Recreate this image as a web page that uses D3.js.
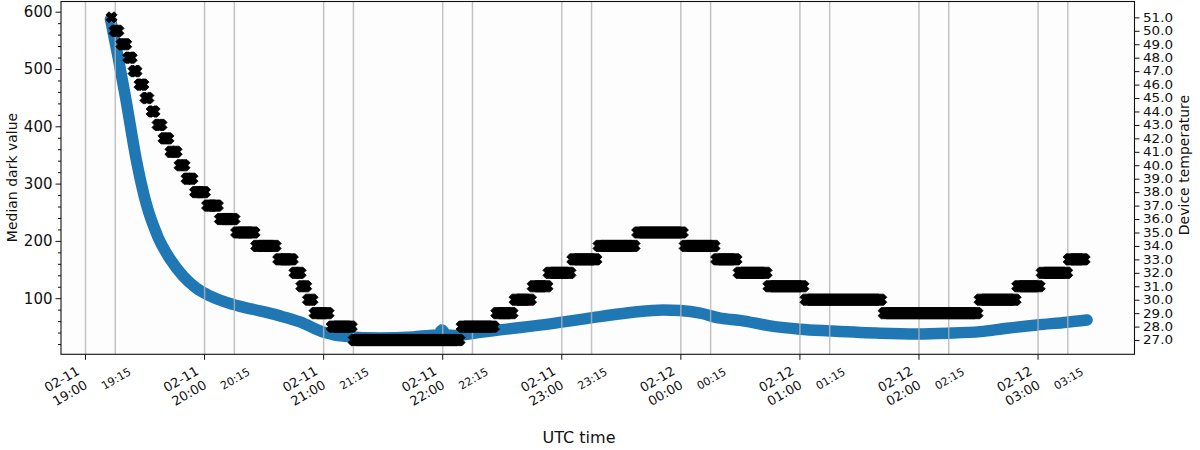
<!DOCTYPE html>
<html><head><meta charset="utf-8">
<script src="https://cdn.jsdelivr.net/npm/d3@7"></script>
<style>
html,body{margin:0;padding:0;background:#fff;}
svg{display:block;font-family:"DejaVu Sans",sans-serif;}
</style></head><body>
<svg id="chart" width="1200" height="450"></svg>
<script>
// ---------- data ----------
const darkTimes = [
 "2023-02-11 19:12:36","2023-02-11 19:16:24","2023-02-11 19:20:24","2023-02-11 19:25:24","2023-02-11 19:30:30",
 "2023-02-11 19:36:30","2023-02-11 19:42:30","2023-02-11 19:49:06","2023-02-11 19:55:42","2023-02-11 20:02:42",
 "2023-02-11 20:10:18","2023-02-11 20:17:54","2023-02-11 20:27:54","2023-02-11 20:38:00","2023-02-11 20:48:06",
 "2023-02-11 20:59:42","2023-02-11 21:10:48","2023-02-11 21:28:24","2023-02-11 21:45:00","2023-02-11 21:53:36",
 "2023-02-11 21:57:36","2023-02-11 21:59:36","2023-02-11 22:01:42","2023-02-11 22:06:12","2023-02-11 22:18:48",
 "2023-02-11 22:28:54","2023-02-11 22:54:06","2023-02-11 23:19:18","2023-02-11 23:35:54","2023-02-11 23:51:00",
 "2023-02-11 23:59:36","2023-02-12 00:09:42","2023-02-12 00:19:48","2023-02-12 00:29:48","2023-02-12 00:45:00",
 "2023-02-12 01:00:06","2023-02-12 01:15:12","2023-02-12 01:40:24","2023-02-12 01:59:00","2023-02-12 02:14:12",
 "2023-02-12 02:30:48","2023-02-12 02:44:24","2023-02-12 02:59:30","2023-02-12 03:14:36","2023-02-12 03:24:42"];
const darkValues = [
 587, 521, 446, 345, 266,
 207, 169, 139, 118, 104,
 93.5, 85.7, 77.8, 69.1, 58.6,
 41.2, 33.4, 30.7, 32.5, 35.1,
 36.0, 44.7, 36.0, 35.1, 40.3,
 44.7, 55.2, 67.9, 75.6, 79.6,
 78.4, 73.8, 65.1, 61.3, 51.7,
 45.9, 42.9, 38.9, 37.7, 38.9,
 41.7, 47.6, 53.4, 58.1, 62.1];

const tempLevels = [51,50,49,48,47,46,45,44,43,42,41,40,39,38,37,36,35,34,33,32,31,30,29,28,27,
                    28,29,30,31,32,33,34,35,34,33,32,31,30,29,30,31,32,33];
const tempStart = [
 "2023-02-11 19:13:06","2023-02-11 19:14:36","2023-02-11 19:18:06","2023-02-11 19:21:30","2023-02-11 19:24:12",
 "2023-02-11 19:27:12","2023-02-11 19:30:12","2023-02-11 19:33:18","2023-02-11 19:36:18","2023-02-11 19:39:18",
 "2023-02-11 19:42:48","2023-02-11 19:47:24","2023-02-11 19:50:54","2023-02-11 19:55:12","2023-02-11 20:01:18",
 "2023-02-11 20:07:42","2023-02-11 20:15:54","2023-02-11 20:26:00","2023-02-11 20:37:06","2023-02-11 20:45:18",
 "2023-02-11 20:48:42","2023-02-11 20:52:06","2023-02-11 20:55:24","2023-02-11 21:04:00","2023-02-11 21:15:06",
 "2023-02-11 22:09:30","2023-02-11 22:27:00","2023-02-11 22:36:12","2023-02-11 22:45:18","2023-02-11 22:53:18",
 "2023-02-11 23:05:18","2023-02-11 23:18:30","2023-02-11 23:38:00","2023-02-12 00:01:54","2023-02-12 00:17:48",
 "2023-02-12 00:29:06","2023-02-12 00:44:06","2023-02-12 01:02:48","2023-02-12 01:42:12","2023-02-12 02:30:30",
 "2023-02-12 02:49:30","2023-02-12 03:01:48","2023-02-12 03:15:24"];
const tempEnd = [
 "2023-02-11 19:13:06","2023-02-11 19:16:36","2023-02-11 19:20:30","2023-02-11 19:23:18","2023-02-11 19:25:42",
 "2023-02-11 19:29:12","2023-02-11 19:31:42","2023-02-11 19:34:48","2023-02-11 19:38:18","2023-02-11 19:41:48",
 "2023-02-11 19:45:54","2023-02-11 19:49:54","2023-02-11 19:53:54","2023-02-11 20:00:12","2023-02-11 20:06:42",
 "2023-02-11 20:15:06","2023-02-11 20:25:12","2023-02-11 20:35:48","2023-02-11 20:44:30","2023-02-11 20:48:24",
 "2023-02-11 20:51:12","2023-02-11 20:54:24","2023-02-11 21:02:30","2023-02-11 21:14:12","2023-02-11 22:08:30",
 "2023-02-11 22:25:48","2023-02-11 22:35:12","2023-02-11 22:44:30","2023-02-11 22:52:48","2023-02-11 23:04:24",
 "2023-02-11 23:17:30","2023-02-11 23:36:42","2023-02-12 00:01:00","2023-02-12 00:17:00","2023-02-12 00:28:06",
 "2023-02-12 00:43:12","2023-02-12 01:01:48","2023-02-12 01:41:00","2023-02-12 02:29:30","2023-02-12 02:48:42",
 "2023-02-12 03:00:48","2023-02-12 03:14:42","2023-02-12 03:23:30"];

const leftTicks = [100,200,300,400,500,600];
const leftMinorTicks = [20,40,60,80,120,140,160,180,220,240,260,280,320,340,360,380,420,440,460,480,520,540,560,580];
const rightTicks = [27,28,29,30,31,32,33,34,35,36,37,38,39,40,41,42,43,44,45,46,47,48,49,50,51];
const majorTimeTicks = ["2023-02-11 19:00:00","2023-02-11 20:00:00","2023-02-11 21:00:00","2023-02-11 22:00:00",
 "2023-02-11 23:00:00","2023-02-12 00:00:00","2023-02-12 01:00:00","2023-02-12 02:00:00","2023-02-12 03:00:00"];
const minorTimeTicks = ["2023-02-11 19:15:00","2023-02-11 20:15:00","2023-02-11 21:15:00","2023-02-11 22:15:00",
 "2023-02-11 23:15:00","2023-02-12 00:15:00","2023-02-12 01:15:00","2023-02-12 02:15:00","2023-02-12 03:15:00"];
const timeDomain = ["2023-02-11 18:47:39","2023-02-12 03:48:36"];
const leftDomain = [2.1, 617.8];
const rightDomain = [25.94, 52.18];
const labels = {left:"Median dark value", right:"Device temperature", bottom:"UTC time"};

// ---------- layout ----------
const P = {l:61, r:1134.5, t:1.5, b:354.3};
const parse = d3.utcParse("%Y-%m-%d %H:%M:%S");
const x = d3.scaleUtc().domain(timeDomain.map(parse)).range([P.l, P.r]);
const yL = d3.scaleLinear().domain(leftDomain).range([P.b, P.t]);
const yR = d3.scaleLinear().domain(rightDomain).range([P.b, P.t]);

const svg = d3.select("#chart");
svg.append("rect").attr("x",0).attr("y",0).attr("width",1200).attr("height",450).attr("fill","#fff");
svg.append("rect").attr("x",P.l).attr("y",P.t).attr("width",P.r-P.l).attr("height",P.b-P.t).attr("fill","#fdfdfd");

// blue series
const dark = darkTimes.map((t,i)=>({t:parse(t), v:darkValues[i]}));
const line = d3.line().x(d=>x(d.t)).y(d=>yL(d.v)).curve(d3.curveMonotoneX);
svg.append("path").datum(dark).attr("d",line)
  .attr("fill","none").attr("stroke","#1f77b4").attr("stroke-width",11.5)
  .attr("stroke-linecap","round").attr("stroke-linejoin","round");

// grid (vertical, major + minor)
const gridTimes = majorTimeTicks.concat(minorTimeTicks).map(parse);
svg.append("g").selectAll("line").data(gridTimes).join("line")
  .attr("x1",d=>x(d)).attr("x2",d=>x(d)).attr("y1",P.t).attr("y2",P.b)
  .attr("stroke","#b4b4b4").attr("stroke-opacity",0.8).attr("stroke-width",1.5);

// temperature steps drawn as swept X markers
const MH = 5.7, MW = 2.2;
function armCorners(cx, cy, horiz){
  const pts = horiz ? [[-MH,-MW],[MH,-MW],[MH,MW],[-MH,MW]] : [[-MW,-MH],[MW,-MH],[MW,MH],[-MW,MH]];
  const r = Math.SQRT1_2;
  return pts.map(([a,b]) => [cx + (a-b)*r, cy + (a+b)*r]);
}
const steps = tempLevels.map((v,i)=>({v, s:parse(tempStart[i]), e:parse(tempEnd[i])}));
const gT = svg.append("g");
steps.forEach(st=>{
  const x0 = x(st.s), x1 = x(st.e), yy = yR(st.v);
  [true,false].forEach(h=>{
    const hull = d3.polygonHull(armCorners(x0,yy,h).concat(armCorners(x1,yy,h)));
    gT.append("path").attr("d","M"+hull.map(p=>p.join(",")).join("L")+"Z")
      .attr("fill","#000").attr("stroke","#000").attr("stroke-width",0.8).attr("stroke-linejoin","miter");
  });
});

// frame
svg.append("rect").attr("x",P.l).attr("y",P.t).attr("width",P.r-P.l).attr("height",P.b-P.t)
  .attr("fill","none").attr("stroke","#111").attr("stroke-width",1.1);

// left axis
const gl = svg.append("g").attr("transform",`translate(${P.l},0)`);
gl.call(d3.axisLeft(yL).tickValues(leftTicks).tickSize(5.5).tickPadding(3).tickFormat(d3.format("d")));
gl.append("g").call(d3.axisLeft(yL).tickValues(leftMinorTicks).tickSize(3).tickFormat(""));
gl.selectAll(".domain").remove();
gl.selectAll("text").attr("font-size",15).attr("font-family","DejaVu Sans").attr("fill","#111");
gl.selectAll("line").attr("stroke","#111");

// right axis
const gr = svg.append("g").attr("transform",`translate(${P.r},0)`);
gr.call(d3.axisRight(yR).tickValues(rightTicks).tickSize(5).tickPadding(3.5).tickFormat(d3.format(".1f")));
gr.selectAll(".domain").remove();
gr.selectAll("text").attr("font-size",12).attr("font-family","DejaVu Sans").attr("fill","#111")
  .attr("textLength",30).attr("lengthAdjust","spacingAndGlyphs");
gr.selectAll("line").attr("stroke","#111");

// bottom axis
const fmtDate = d3.utcFormat("%m-%d"), fmtTime = d3.utcFormat("%H:%M");
const gb = svg.append("g");
majorTimeTicks.map(parse).forEach(t=>{
  const tx = x(t);
  gb.append("line").attr("x1",tx).attr("x2",tx).attr("y1",P.b).attr("y2",P.b+5.5).attr("stroke","#111");
  const tg = gb.append("g").attr("transform",`translate(${tx-10},${365}) rotate(-30)`);
  const tt = tg.append("text").attr("text-anchor","end").attr("font-size",13).attr("fill","#111");
  tt.append("tspan").attr("x",0).attr("y",10).text(fmtDate(t));
  tt.append("tspan").attr("x",0).attr("y",26).text(fmtTime(t));
});
minorTimeTicks.map(parse).forEach(t=>{
  const tx = x(t);
  gb.append("text").attr("transform",`translate(${tx+1},379) rotate(-30)`)
    .attr("text-anchor","middle").attr("dominant-baseline","central")
    .attr("font-size",11).attr("fill","#111").text(fmtTime(t));
});

// axis titles
svg.append("text").attr("transform","translate(11.5,177.5) rotate(-90)")
  .attr("text-anchor","middle").attr("dominant-baseline","central").attr("font-size",14).attr("fill","#111").text(labels.left);
svg.append("text").attr("transform","translate(1183.5,165) rotate(-90)")
  .attr("text-anchor","middle").attr("dominant-baseline","central").attr("font-size",14).attr("fill","#111").text(labels.right);
svg.append("text").attr("x",579).attr("y",443)
  .attr("text-anchor","middle").attr("font-size",16).attr("fill","#111").text(labels.bottom);
</script>
</body></html>
